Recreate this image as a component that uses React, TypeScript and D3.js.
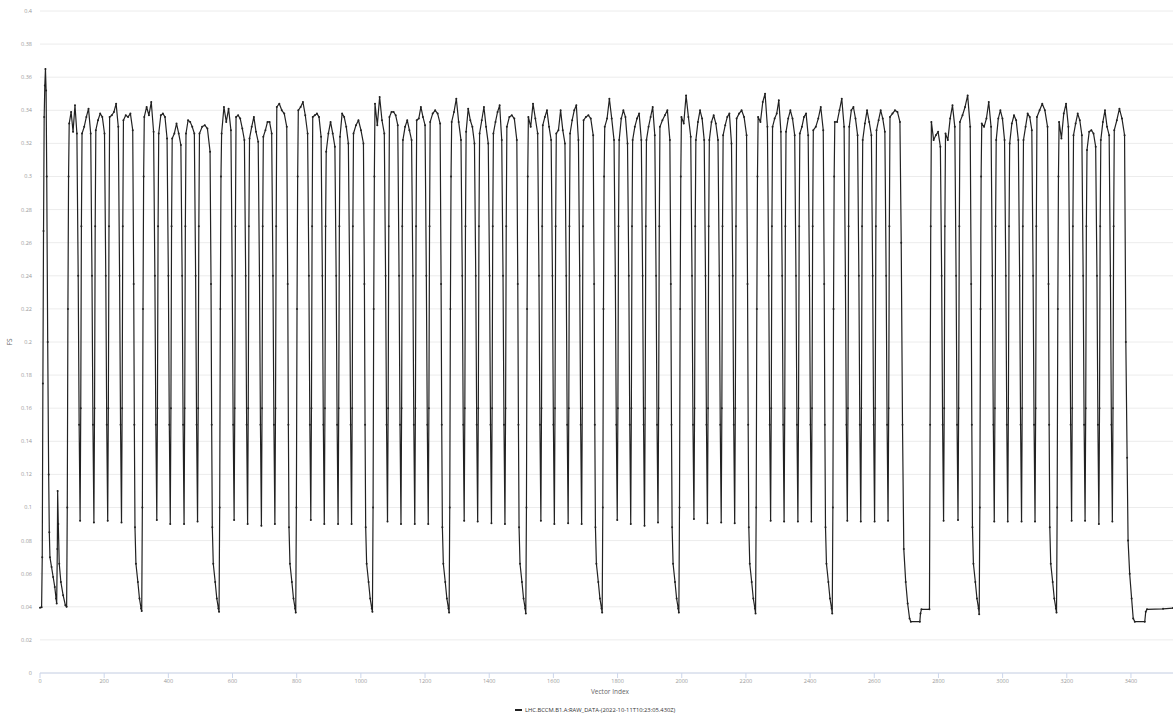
import React from 'react'
import * as d3 from 'd3'

const W = 1173
const H = 717
const margin = { top: 11, right: 0, bottom: 44, left: 40 }

const seriesName = 'LHC.BCCM.B1.A:RAW_DATA-(2022-10-11T10:23:05.430Z)'
const xTickValues = [0, 200, 400, 600, 800, 1000, 1200, 1400, 1600, 1800, 2000, 2200, 2400, 2600, 2800, 3000, 3200, 3400]
const yTickValues = [0, 0.02, 0.04, 0.06, 0.08, 0.1, 0.12, 0.14, 0.16, 0.18, 0.2, 0.22, 0.24, 0.26, 0.28, 0.3, 0.32, 0.34, 0.36, 0.38, 0.4]
const lastIndex = 3531

// injection spike at the start of the record
const startIndex = [0, 5, 7, 9, 11, 13, 15, 17, 19, 21, 24, 27, 29, 31, 36, 41, 46, 50, 52, 54, 55, 57, 60, 65, 72, 79, 83]
const startFS = [0.0395, 0.0398, 0.07, 0.175, 0.267, 0.336, 0.355, 0.365, 0.352, 0.3, 0.2, 0.12, 0.085, 0.07, 0.064, 0.058, 0.052, 0.045, 0.042, 0.075, 0.11, 0.09, 0.066, 0.055, 0.047, 0.041, 0.04]

// floor of every gap between trains: s = start, n = short gap, d = long gap, g = abort gap, e = dump
const dipKind = 's' + 'nnnnd'.repeat(10) + 'nnnng' + 'nnd' + 'nnnnd' + 'nnnne'
const dipIndex = [
  83,
  125, 168, 211, 254, 317,
  364, 406, 449, 491, 558,
  605, 647, 690, 732, 797,
  844, 886, 929, 971, 1036,
  1083, 1125, 1168, 1210, 1275,
  1322, 1364, 1407, 1449, 1514,
  1561, 1603, 1646, 1688, 1752,
  1799, 1841, 1884, 1926, 1991,
  2038, 2080, 2123, 2165, 2230,
  2277, 2319, 2362, 2404, 2469,
  2516, 2558, 2601, 2643, 2710,
  2816, 2861, 2927,
  2974, 3016, 3059, 3101, 3168,
  3215, 3257, 3300, 3342, 3407,
]
const dipFS = [
  0.04,
  0.092, 0.091, 0.092, 0.091, 0.0375,
  0.0925, 0.09, 0.09, 0.0915, 0.037,
  0.0925, 0.09, 0.089, 0.09, 0.0365,
  0.0925, 0.09, 0.09, 0.09, 0.037,
  0.0915, 0.09, 0.09, 0.09, 0.0365,
  0.092, 0.0915, 0.0905, 0.09, 0.036,
  0.092, 0.09, 0.0905, 0.09, 0.0365,
  0.0925, 0.09, 0.089, 0.091, 0.0365,
  0.093, 0.0905, 0.091, 0.0905, 0.036,
  0.092, 0.0915, 0.0915, 0.0915, 0.036,
  0.092, 0.0915, 0.0915, 0.092, 0.031,
  0.092, 0.0925, 0.0355,
  0.0915, 0.0915, 0.0915, 0.0915, 0.0365,
  0.092, 0.092, 0.09, 0.0915, 0.031,
]

// FS across the flat top of each train, left to right
const trainTop = [
  [0.332, 0.339, 0.327, 0.343, 0.326], [0.326, 0.33, 0.336, 0.341, 0.326], [0.328, 0.334, 0.338, 0.336, 0.326], [0.336, 0.337, 0.339, 0.344, 0.33], [0.334, 0.337, 0.336, 0.338, 0.328],
  [0.336, 0.342, 0.337, 0.345, 0.327], [0.326, 0.337, 0.338, 0.336, 0.323], [0.323, 0.326, 0.332, 0.326, 0.319], [0.326, 0.334, 0.333, 0.33, 0.326], [0.326, 0.33, 0.331, 0.329, 0.315],
  [0.326, 0.342, 0.333, 0.341, 0.328], [0.336, 0.337, 0.335, 0.329, 0.322], [0.323, 0.33, 0.336, 0.327, 0.321], [0.324, 0.328, 0.333, 0.333, 0.326], [0.342, 0.344, 0.34, 0.338, 0.33],
  [0.34, 0.342, 0.345, 0.337, 0.326], [0.336, 0.337, 0.338, 0.336, 0.324], [0.315, 0.326, 0.333, 0.326, 0.318], [0.324, 0.338, 0.336, 0.33, 0.32], [0.326, 0.331, 0.334, 0.328, 0.32],
  [0.344, 0.331, 0.348, 0.334, 0.326], [0.336, 0.339, 0.339, 0.337, 0.331], [0.322, 0.33, 0.334, 0.328, 0.322], [0.334, 0.335, 0.342, 0.336, 0.331], [0.333, 0.338, 0.34, 0.338, 0.332],
  [0.333, 0.339, 0.347, 0.333, 0.322], [0.327, 0.341, 0.334, 0.33, 0.32], [0.326, 0.334, 0.342, 0.33, 0.32], [0.326, 0.333, 0.339, 0.343, 0.322], [0.33, 0.336, 0.337, 0.335, 0.322],
  [0.336, 0.33, 0.344, 0.335, 0.326], [0.331, 0.336, 0.34, 0.33, 0.322], [0.326, 0.328, 0.34, 0.328, 0.32], [0.326, 0.334, 0.34, 0.343, 0.322], [0.334, 0.336, 0.337, 0.335, 0.325],
  [0.33, 0.335, 0.347, 0.335, 0.322], [0.322, 0.335, 0.34, 0.336, 0.32], [0.322, 0.33, 0.335, 0.338, 0.322], [0.322, 0.33, 0.336, 0.342, 0.325], [0.33, 0.334, 0.337, 0.34, 0.322],
  [0.336, 0.332, 0.349, 0.336, 0.324], [0.322, 0.333, 0.34, 0.335, 0.322], [0.322, 0.333, 0.337, 0.332, 0.322], [0.325, 0.331, 0.336, 0.338, 0.32], [0.335, 0.338, 0.34, 0.336, 0.325],
  [0.336, 0.333, 0.345, 0.35, 0.33], [0.33, 0.335, 0.338, 0.346, 0.327], [0.327, 0.335, 0.34, 0.335, 0.325], [0.326, 0.33, 0.336, 0.338, 0.325], [0.328, 0.33, 0.335, 0.342, 0.328],
  [0.333, 0.333, 0.34, 0.347, 0.33], [0.33, 0.34, 0.342, 0.335, 0.325], [0.322, 0.332, 0.34, 0.333, 0.325], [0.328, 0.334, 0.34, 0.335, 0.327], [0.336, 0.338, 0.34, 0.339, 0.333],
  [0.333, 0.322, 0.325, 0.327, 0.318], [0.326, 0.322, 0.335, 0.343, 0.33], [0.333, 0.337, 0.342, 0.349, 0.33],
  [0.332, 0.33, 0.335, 0.345, 0.33], [0.322, 0.335, 0.34, 0.335, 0.322], [0.32, 0.332, 0.337, 0.334, 0.322], [0.322, 0.33, 0.338, 0.336, 0.328], [0.336, 0.34, 0.344, 0.34, 0.33],
  [0.333, 0.323, 0.338, 0.344, 0.33], [0.325, 0.332, 0.338, 0.334, 0.325], [0.316, 0.327, 0.328, 0.326, 0.318], [0.322, 0.333, 0.34, 0.33, 0.325], [0.328, 0.334, 0.341, 0.335, 0.325],
]

// edges around a short gap floor (sample offset from the floor, FS)
const shortFallOffset = [-6, -3]
const shortFallFS = [0.24, 0.15]
const shortRiseOffset = [2, 4]
const shortRiseFS = [0.16, 0.27]
// fall and decay into a long gap floor
const longFallOffset = [-25, -23, -21, -18, -12, -7, -2]
const longFallFS = [0.235, 0.15, 0.088, 0.066, 0.055, 0.045, 0.039]
const longRiseOffset = [2, 4, 6]
const longRiseFS = [0.1, 0.22, 0.3]
// abort gap with a flat floor and a step
const abortIndex = [2684, 2688, 2692, 2698, 2704, 2710, 2714, 2742, 2744, 2747, 2772, 2774, 2776]
const abortFS = [0.26, 0.15, 0.075, 0.055, 0.042, 0.033, 0.031, 0.031, 0.036, 0.0385, 0.0385, 0.15, 0.27]
// final dump to the end of the record
const dumpIndex = [3384, 3388, 3391, 3396, 3402, 3407, 3412, 3443, 3446, 3450, 3500, 3531]
const dumpFS = [0.2, 0.13, 0.08, 0.06, 0.045, 0.033, 0.031, 0.031, 0.037, 0.0385, 0.0388, 0.0392]

function buildSeries() {
  const pts: [number, number][] = startIndex.map((x, i) => [x, startFS[i]])
  longRiseOffset.forEach((o, j) => pts.push([dipIndex[0] + o, longRiseFS[j]]))
  for (let k = 0; k < trainTop.length; k++) {
    const kind = dipKind[k]
    const left =
      kind === 'n' ? dipIndex[k] + 6 : kind === 'g' ? abortIndex[abortIndex.length - 1] + 2 : dipIndex[k] + 8
    const nk = dipKind[k + 1]
    const b = dipIndex[k + 1]
    const right =
      nk === 'n' ? b - 10 : nk === 'd' ? b - 28 : nk === 'g' ? abortIndex[0] - 4 : dumpIndex[0] - 4
    const top = trainTop[k]
    top.forEach((v, j) => pts.push([left + ((right - left) * j) / (top.length - 1), v]))
    if (nk === 'n') {
      shortFallOffset.forEach((o, j) => pts.push([b + o, shortFallFS[j]]))
      pts.push([b, dipFS[k + 1]])
      shortRiseOffset.forEach((o, j) => pts.push([b + o, shortRiseFS[j]]))
    } else if (nk === 'd') {
      longFallOffset.forEach((o, j) => pts.push([b + o, longFallFS[j]]))
      pts.push([b, dipFS[k + 1]])
      longRiseOffset.forEach((o, j) => pts.push([b + o, longRiseFS[j]]))
    } else if (nk === 'g') {
      abortIndex.forEach((x, j) => pts.push([x, abortFS[j]]))
    } else {
      dumpIndex.forEach((x, j) => pts.push([x, dumpFS[j]]))
    }
  }
  return pts
}

const series = buildSeries()

export default function App() {
  const x = d3.scaleLinear().domain([0, lastIndex]).range([margin.left, W - margin.right])
  const y = d3.scaleLinear().domain([0, 0.4]).range([H - margin.bottom, margin.top])
  const line = d3
    .line<[number, number]>()
    .x((d) => x(d[0]))
    .y((d) => y(d[1]))
  const fmt = (v: number) => String(+v.toFixed(2))
  const baseY = y(0)

  return (
    <svg
      width={W}
      height={H}
      style={{ position: 'absolute', left: 0, top: 0, display: 'block', background: '#fff' }}
      fontFamily="'Open Sans', sans-serif"
    >
      {/* grid */}
      {yTickValues.map((v) => (
        <line key={'g' + v} x1={margin.left} x2={W} y1={y(v)} y2={y(v)} stroke="#ececec" strokeWidth={1} />
      ))}
      {yTickValues.map((v) => (
        <text key={'yl' + v} x={32} y={y(v)} dy="0.35em" textAnchor="end" fontSize={5.5} fill="#999">
          {fmt(v)}
        </text>
      ))}
      <line x1={margin.left} x2={W} y1={baseY} y2={baseY} stroke="#ccd6eb" strokeWidth={1} />
      {xTickValues.map((v) => (
        <g key={'x' + v}>
          <line x1={x(v)} x2={x(v)} y1={baseY} y2={baseY + 5} stroke="#ccd6eb" strokeWidth={1} />
          <text x={x(v)} y={baseY + 10} textAnchor="middle" fontSize={5.5} fill="#999">
            {v}
          </text>
        </g>
      ))}
      <text x={610} y={694} textAnchor="middle" fontSize={6.5} fill="#666">
        Vector Index
      </text>
      <text transform={`translate(12, ${342}) rotate(-90)`} textAnchor="middle" fontSize={6.5} fill="#666">
        FS
      </text>

      {/* series */}
      <path d={line(series) ?? ''} fill="none" stroke="#222" strokeWidth={1.2} strokeLinejoin="round" />
      {series.map((d, i) => (
        <circle key={i} cx={x(d[0])} cy={y(d[1])} r={1} fill="#222" />
      ))}

      {/* legend */}
      <line x1={515} x2={522} y1={710} y2={710} stroke="#222" strokeWidth={2} />
      <text x={525} y={712} fontSize={5.8} fill="#333">
        {seriesName}
      </text>
    </svg>
  )
}
